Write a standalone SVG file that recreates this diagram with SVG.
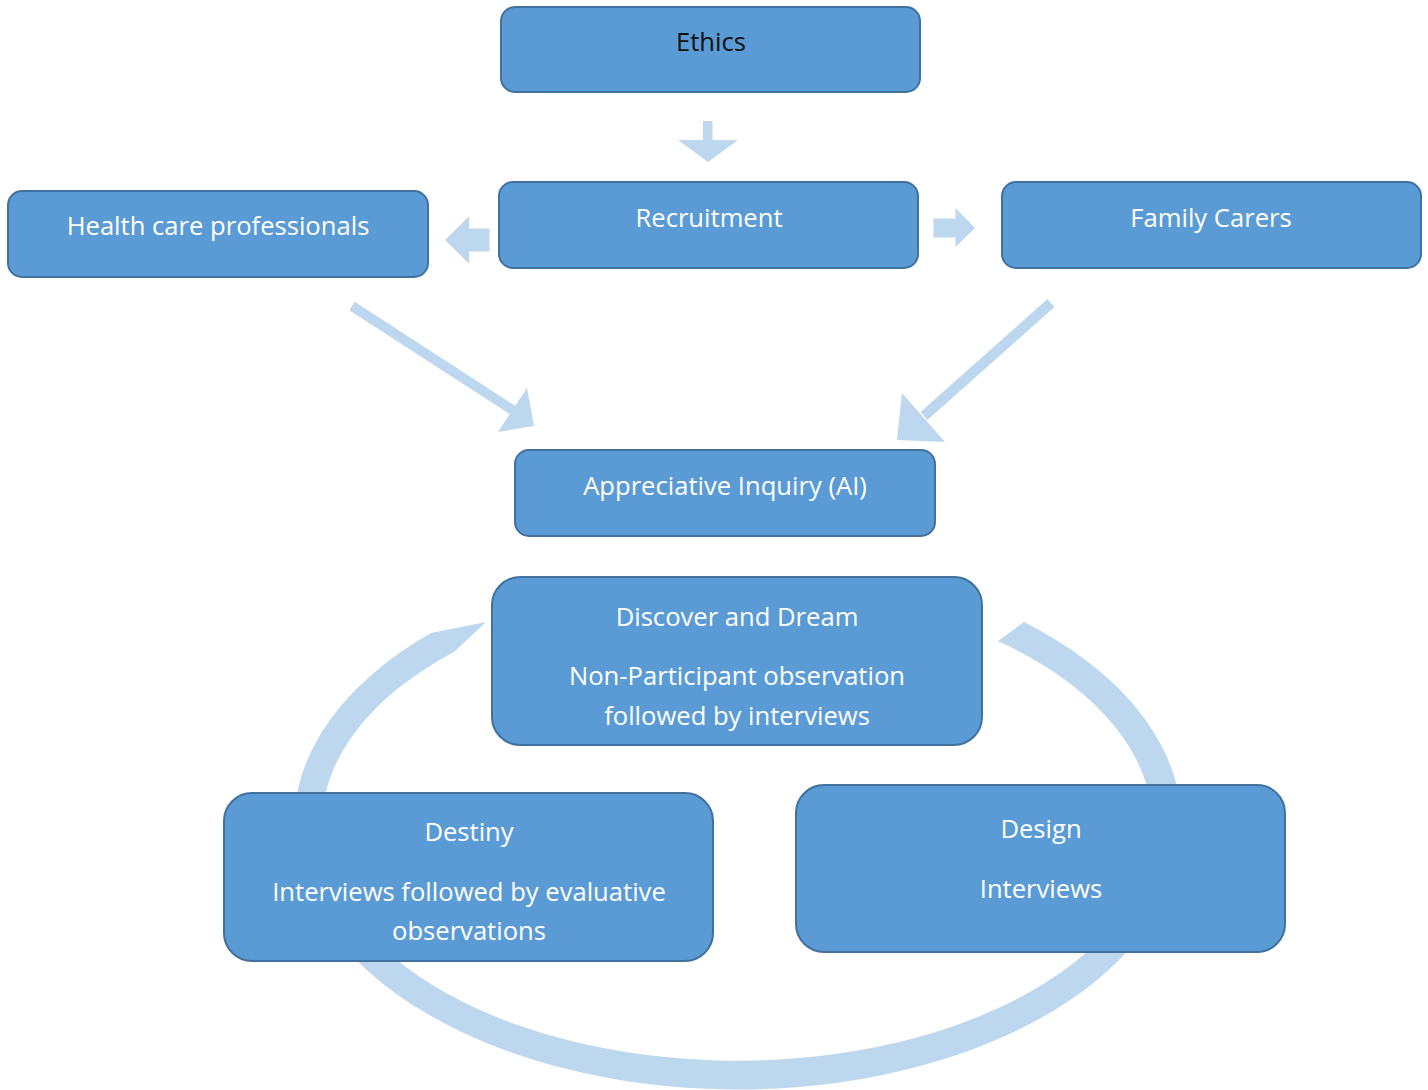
<svg xmlns="http://www.w3.org/2000/svg" width="1428" height="1090" viewBox="0 0 1428 1090">
  <style>
    .box { fill: #5B9BD5; stroke: #41719C; stroke-width: 2; }
    .lbl { font-family: "Open Sans", "Liberation Sans", sans-serif; font-size: 25.6px; fill: #FFFFFF; text-anchor: middle; }
    .dark { fill: #111111; }
    .flow { fill: #BDD7EE; stroke: none; }
  </style>

  <!-- connectors: block arrows and the AI cycle band -->
  <g id="connectors">
    <!-- cycle band: open ellipse with a pointed head at top-left -->
    <path class="flow" d="M 1024 622 A 443.8 265 0 1 1 431 633 L 486 622 L 454 652 A 415.3 236 0 1 0 998 641 Z"/>
    <!-- Ethics -> Recruitment -->
    <polygon class="flow" points="703,121 712.5,121 712.5,140 738,140 708,162 678,140 703,140"/>
    <!-- Recruitment -> Health care professionals -->
    <polygon class="flow" points="489.5,228.5 469,228.5 469,216.5 445,240 469,263.5 469,251.5 489.5,251.5"/>
    <!-- Recruitment -> Family Carers -->
    <polygon class="flow" points="933.5,218.5 955.5,218.5 955.5,208 975,228 955.5,247 955.5,237.5 933.5,237.5"/>
    <!-- Health care professionals -> AI -->
    <g>
      <line x1="352" y1="306" x2="514" y2="411" stroke="#BDD7EE" stroke-width="10"/>
      <polygon class="flow" points="527,388 534,426 498,432"/>
    </g>
    <!-- Family Carers -> AI -->
    <g>
      <line x1="1051" y1="303" x2="924" y2="416" stroke="#BDD7EE" stroke-width="10.5"/>
      <polygon class="flow" points="902,393 945,442 897,440"/>
    </g>
  </g>

  <g id="ethics">
    <rect class="box" x="501" y="7" width="419" height="85" rx="14"/>
    <text class="lbl dark" x="711" y="51">Ethics</text>
  </g>

  <g id="recruitment">
    <rect class="box" x="499" y="182" width="419" height="86" rx="14"/>
    <text class="lbl" x="709" y="227">Recruitment</text>
  </g>

  <g id="health-care-professionals">
    <rect class="box" x="8" y="191" width="420" height="86" rx="14"/>
    <text class="lbl" x="218" y="235">Health care professionals</text>
  </g>

  <g id="family-carers">
    <rect class="box" x="1002" y="182" width="419" height="86" rx="14"/>
    <text class="lbl" x="1211" y="227">Family Carers</text>
  </g>

  <g id="appreciative-inquiry">
    <rect class="box" x="515" y="450" width="420" height="86" rx="14"/>
    <text class="lbl" x="725" y="495">Appreciative Inquiry (AI)</text>
  </g>

  <g id="discover-dream">
    <rect class="box" x="492" y="577" width="490" height="168" rx="28"/>
    <text class="lbl" x="737" y="626">Discover and Dream</text>
    <text class="lbl" x="737" y="685">Non-Participant observation</text>
    <text class="lbl" x="737" y="725">followed by interviews</text>
  </g>

  <g id="destiny">
    <rect class="box" x="224" y="793" width="489" height="168" rx="28"/>
    <text class="lbl" x="469" y="841">Destiny</text>
    <text class="lbl" x="469" y="901">Interviews followed by evaluative</text>
    <text class="lbl" x="469" y="940">observations</text>
  </g>

  <g id="design">
    <rect class="box" x="796" y="785" width="489" height="167" rx="28"/>
    <text class="lbl" x="1041" y="838">Design</text>
    <text class="lbl" x="1041" y="898">Interviews</text>
  </g>
</svg>
